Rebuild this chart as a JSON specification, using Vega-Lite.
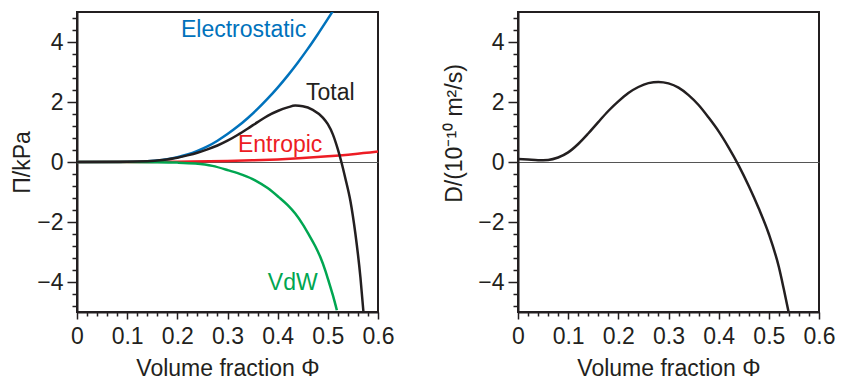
{
  "$schema": "https://vega.github.io/schema/vega-lite/v6.json",
  "background": "white",
  "padding": {"left": 10, "top": 5, "right": 5, "bottom": 5},
  "spacing": 46,
  "datasets": {
    "curves": [
      {"phi": 0, "value": 0, "series": "Electrostatic"},
      {"phi": 0.05, "value": 0, "series": "Electrostatic"},
      {"phi": 0.1, "value": 0.005, "series": "Electrostatic"},
      {"phi": 0.14, "value": 0.025, "series": "Electrostatic"},
      {"phi": 0.17, "value": 0.07, "series": "Electrostatic"},
      {"phi": 0.2, "value": 0.16, "series": "Electrostatic"},
      {"phi": 0.22, "value": 0.25, "series": "Electrostatic"},
      {"phi": 0.24, "value": 0.37, "series": "Electrostatic"},
      {"phi": 0.26, "value": 0.52, "series": "Electrostatic"},
      {"phi": 0.28, "value": 0.71, "series": "Electrostatic"},
      {"phi": 0.3, "value": 0.93, "series": "Electrostatic"},
      {"phi": 0.32, "value": 1.18, "series": "Electrostatic"},
      {"phi": 0.34, "value": 1.46, "series": "Electrostatic"},
      {"phi": 0.36, "value": 1.77, "series": "Electrostatic"},
      {"phi": 0.38, "value": 2.11, "series": "Electrostatic"},
      {"phi": 0.4, "value": 2.48, "series": "Electrostatic"},
      {"phi": 0.42, "value": 2.88, "series": "Electrostatic"},
      {"phi": 0.44, "value": 3.31, "series": "Electrostatic"},
      {"phi": 0.46, "value": 3.77, "series": "Electrostatic"},
      {"phi": 0.48, "value": 4.26, "series": "Electrostatic"},
      {"phi": 0.5, "value": 4.77, "series": "Electrostatic"},
      {"phi": 0.51, "value": 5.03, "series": "Electrostatic"},

      {"phi": 0, "value": 0, "series": "Entropic"},
      {"phi": 0.1, "value": 0.003, "series": "Entropic"},
      {"phi": 0.2, "value": 0.012, "series": "Entropic"},
      {"phi": 0.3, "value": 0.035, "series": "Entropic"},
      {"phi": 0.35, "value": 0.055, "series": "Entropic"},
      {"phi": 0.4, "value": 0.085, "series": "Entropic"},
      {"phi": 0.45, "value": 0.13, "series": "Entropic"},
      {"phi": 0.5, "value": 0.19, "series": "Entropic"},
      {"phi": 0.55, "value": 0.26, "series": "Entropic"},
      {"phi": 0.6, "value": 0.35, "series": "Entropic"},

      {"phi": 0, "value": 0, "series": "VdW"},
      {"phi": 0.1, "value": -0.003, "series": "VdW"},
      {"phi": 0.15, "value": -0.008, "series": "VdW"},
      {"phi": 0.2, "value": -0.02, "series": "VdW"},
      {"phi": 0.236, "value": -0.05, "series": "VdW"},
      {"phi": 0.27, "value": -0.13, "series": "VdW"},
      {"phi": 0.302, "value": -0.28, "series": "VdW"},
      {"phi": 0.33, "value": -0.43, "series": "VdW"},
      {"phi": 0.355, "value": -0.61, "series": "VdW"},
      {"phi": 0.38, "value": -0.87, "series": "VdW"},
      {"phi": 0.402, "value": -1.17, "series": "VdW"},
      {"phi": 0.42, "value": -1.44, "series": "VdW"},
      {"phi": 0.435, "value": -1.72, "series": "VdW"},
      {"phi": 0.45, "value": -2.08, "series": "VdW"},
      {"phi": 0.461, "value": -2.39, "series": "VdW"},
      {"phi": 0.475, "value": -2.81, "series": "VdW"},
      {"phi": 0.485, "value": -3.17, "series": "VdW"},
      {"phi": 0.495, "value": -3.62, "series": "VdW"},
      {"phi": 0.501, "value": -3.94, "series": "VdW"},
      {"phi": 0.51, "value": -4.44, "series": "VdW"},
      {"phi": 0.518, "value": -4.94, "series": "VdW"},

      {"phi": 0, "value": 0, "series": "Total"},
      {"phi": 0.1, "value": 0.005, "series": "Total"},
      {"phi": 0.14, "value": 0.022, "series": "Total"},
      {"phi": 0.17, "value": 0.065, "series": "Total"},
      {"phi": 0.2, "value": 0.14, "series": "Total"},
      {"phi": 0.22, "value": 0.22, "series": "Total"},
      {"phi": 0.24, "value": 0.31, "series": "Total"},
      {"phi": 0.26, "value": 0.42, "series": "Total"},
      {"phi": 0.28, "value": 0.55, "series": "Total"},
      {"phi": 0.3, "value": 0.71, "series": "Total"},
      {"phi": 0.32, "value": 0.9, "series": "Total"},
      {"phi": 0.34, "value": 1.11, "series": "Total"},
      {"phi": 0.36, "value": 1.33, "series": "Total"},
      {"phi": 0.38, "value": 1.54, "series": "Total"},
      {"phi": 0.4, "value": 1.7, "series": "Total"},
      {"phi": 0.42, "value": 1.82, "series": "Total"},
      {"phi": 0.435, "value": 1.88, "series": "Total"},
      {"phi": 0.45, "value": 1.86, "series": "Total"},
      {"phi": 0.47, "value": 1.74, "series": "Total"},
      {"phi": 0.49, "value": 1.48, "series": "Total"},
      {"phi": 0.5, "value": 1.26, "series": "Total"},
      {"phi": 0.51, "value": 0.92, "series": "Total"},
      {"phi": 0.52, "value": 0.42, "series": "Total"},
      {"phi": 0.527, "value": 0, "series": "Total"},
      {"phi": 0.535, "value": -0.55, "series": "Total"},
      {"phi": 0.545, "value": -1.3, "series": "Total"},
      {"phi": 0.555, "value": -2.4, "series": "Total"},
      {"phi": 0.565, "value": -3.85, "series": "Total"},
      {"phi": 0.571, "value": -5.0, "series": "Total"}
    ],
    "labels": [
      {"phi": 0.332, "value": 4.18, "label": "Electrostatic", "series": "Electrostatic"},
      {"phi": 0.505, "value": 2.07, "label": "Total", "series": "Total"},
      {"phi": 0.405, "value": 0.35, "label": "Entropic", "series": "Entropic"},
      {"phi": 0.43, "value": -4.25, "label": "VdW", "series": "VdW"}
    ],
    "diffusion": [
      {"phi": 0, "D": 0.1},
      {"phi": 0.02, "D": 0.08},
      {"phi": 0.04, "D": 0.06},
      {"phi": 0.06, "D": 0.07},
      {"phi": 0.08, "D": 0.15},
      {"phi": 0.1, "D": 0.32},
      {"phi": 0.12, "D": 0.6},
      {"phi": 0.14, "D": 0.95},
      {"phi": 0.16, "D": 1.33},
      {"phi": 0.18, "D": 1.7},
      {"phi": 0.2, "D": 2.02},
      {"phi": 0.22, "D": 2.3},
      {"phi": 0.24, "D": 2.5},
      {"phi": 0.26, "D": 2.63},
      {"phi": 0.28, "D": 2.67},
      {"phi": 0.3, "D": 2.62},
      {"phi": 0.32, "D": 2.48},
      {"phi": 0.34, "D": 2.23},
      {"phi": 0.36, "D": 1.9},
      {"phi": 0.38, "D": 1.48},
      {"phi": 0.4, "D": 1.02},
      {"phi": 0.42, "D": 0.48},
      {"phi": 0.44, "D": -0.12},
      {"phi": 0.46, "D": -0.8},
      {"phi": 0.48, "D": -1.55},
      {"phi": 0.5, "D": -2.4},
      {"phi": 0.52, "D": -3.5},
      {"phi": 0.53, "D": -4.25},
      {"phi": 0.54, "D": -5.05}
    ]
  },
  "config": {
    "font": "Liberation Sans",
    "view": {"stroke": "#231F20", "strokeWidth": 2},
    "axis": {
      "grid": false,
      "domainColor": "#231F20",
      "domainWidth": 2,
      "tickColor": "#231F20",
      "tickWidth": 1.5,
      "labelFontSize": 23,
      "labelColor": "#231F20",
      "labelOverlap": false,
      "labelFlush": false,
      "labelBound": false,
      "titleFontSize": 23,
      "titleFontWeight": "normal",
      "titleColor": "#231F20"
    }
  },
  "hconcat": [
    {
      "width": 301,
      "height": 300,
      "encoding": {
        "x": {
          "field": "phi", "type": "quantitative",
          "scale": {"domain": [0, 0.6], "nice": false},
          "axis": {
            "title": "Volume fraction Φ",
            "values": [0,0.02,0.04,0.06,0.08,0.1,0.12,0.14,0.16,0.18,0.2,0.22,0.24,0.26,0.28,0.3,0.32,0.34,0.36,0.38,0.4,0.42,0.44,0.46,0.48,0.5,0.52,0.54,0.56,0.58,0.6],
            "tickSize": {"condition": {"test": "abs(datum.value*10 - round(datum.value*10)) < 0.01", "value": 7}, "value": 4},
            "labelExpr": "abs(datum.value*10 - round(datum.value*10)) < 0.01 ? format(datum.value, '.1~f') : ''",
            "labelPadding": 6,
            "titlePadding": 9
          }
        },
        "y": {
          "field": "value", "type": "quantitative",
          "scale": {"domain": [-5, 5], "nice": false},
          "axis": {
            "title": "Π/kPa",
            "values": [-4.8,-4.4,-4,-3.6,-3.2,-2.8,-2.4,-2,-1.6,-1.2,-0.8,-0.4,0,0.4,0.8,1.2,1.6,2,2.4,2.8,3.2,3.6,4,4.4,4.8],
            "tickSize": {"condition": {"test": "abs(datum.value - 2*round(datum.value/2)) < 0.01", "value": 10}, "value": 5},
            "labelExpr": "abs(datum.value - 2*round(datum.value/2)) < 0.01 ? format(datum.value, 'd') : ''",
            "labelPadding": 4,
            "grid": true,
            "gridColor": "#555555",
            "gridWidth": 1,
            "gridOpacity": {"condition": {"test": "datum.value == 0", "value": 1}, "value": 0},
            "titleX": -43,
            "titleY": 150
          }
        },
        "color": {
          "field": "series", "type": "nominal",
          "scale": {"domain": ["Electrostatic", "Total", "Entropic", "VdW"], "range": ["#0072BC", "#231F20", "#ED1C24", "#00A651"]},
          "legend": null
        }
      },
      "layer": [
        {
          "data": {"name": "curves"},
          "mark": {"type": "line", "strokeWidth": 2.5, "clip": true, "interpolate": "monotone"}
        },
        {
          "data": {"name": "labels"},
          "mark": {"type": "text", "fontSize": 23, "align": "center", "baseline": "alphabetic"},
          "encoding": {
            "text": {"field": "label"}
          }
        }
      ]
    },
    {
      "width": 301,
      "height": 300,
      "data": {"name": "diffusion"},
      "mark": {"type": "line", "strokeWidth": 2.5, "color": "#231F20", "clip": true, "interpolate": "monotone"},
      "encoding": {
        "x": {
          "field": "phi", "type": "quantitative",
          "scale": {"domain": [0, 0.6], "nice": false},
          "axis": {
            "title": "Volume fraction Φ",
            "values": [0,0.02,0.04,0.06,0.08,0.1,0.12,0.14,0.16,0.18,0.2,0.22,0.24,0.26,0.28,0.3,0.32,0.34,0.36,0.38,0.4,0.42,0.44,0.46,0.48,0.5,0.52,0.54,0.56,0.58,0.6],
            "tickSize": {"condition": {"test": "abs(datum.value*10 - round(datum.value*10)) < 0.01", "value": 7}, "value": 4},
            "labelExpr": "abs(datum.value*10 - round(datum.value*10)) < 0.01 ? format(datum.value, '.1~f') : ''",
            "labelPadding": 6,
            "titlePadding": 9
          }
        },
        "y": {
          "field": "D", "type": "quantitative",
          "scale": {"domain": [-5, 5], "nice": false},
          "axis": {
            "title": "D/(10⁻¹⁰ m²/s)",
            "values": [-4.8,-4.4,-4,-3.6,-3.2,-2.8,-2.4,-2,-1.6,-1.2,-0.8,-0.4,0,0.4,0.8,1.2,1.6,2,2.4,2.8,3.2,3.6,4,4.4,4.8],
            "tickSize": {"condition": {"test": "abs(datum.value - 2*round(datum.value/2)) < 0.01", "value": 10}, "value": 5},
            "labelExpr": "abs(datum.value - 2*round(datum.value/2)) < 0.01 ? format(datum.value, 'd') : ''",
            "labelPadding": 4,
            "grid": true,
            "gridColor": "#555555",
            "gridWidth": 1,
            "gridOpacity": {"condition": {"test": "datum.value == 0", "value": 1}, "value": 0},
            "titleX": -52,
            "titleY": 121
          }
        }
      }
    }
  ]
}
